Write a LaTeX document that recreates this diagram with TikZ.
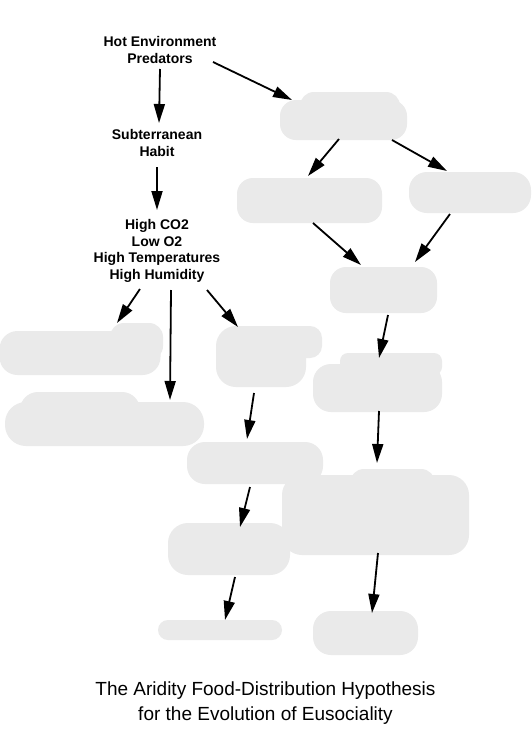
\documentclass[tikz,border=0pt]{standalone}
\usepackage{fontspec}
\setmainfont{Liberation Sans}
\usetikzlibrary{arrows.meta,calc}
\definecolor{blobgray}{RGB}{234,234,234}
\tikzset{
  lbl/.style={font=\bfseries\fontsize{14}{16.5}\selectfont, align=center, inner sep=0pt},
  captiontext/.style={font=\fontsize{19}{25.5}\selectfont, align=center, inner sep=0pt},
  blob/.style={fill=blobgray, draw=none, inner sep=0pt, rounded corners=16pt},
  lump/.style={fill=blobgray, rounded corners=10pt},
  arr/.style={line width=1.8pt, -{Triangle[length=19pt,width=11pt]}, shorten >=0pt}
}
\begin{document}
\begin{tikzpicture}[x=1pt,y=-1pt]
\useasboundingbox[fill=white] (0,0) rectangle (531,734);

% text nodes
\node[lbl] (hot) at (160,50) {Hot Environment\\Predators};
\node[lbl] (sub) at (157,143) {Subterranean\\Habit};
\node[lbl] (high) at (157,251) {High CO2\\Low O2\\High Temperatures\\High Humidity};

% blobs (redacted labels)
\node[blob, minimum width=127pt, minimum height=40pt] (b1) at (343.5,120) {};
\fill[lump, rounded corners=14pt] (300,92) rectangle (400,125);
\node[blob, minimum width=145pt, minimum height=45pt] (b2) at (309.5,200.5) {};
\node[blob, minimum width=122pt, minimum height=41pt, rounded corners=18pt] (b3) at (470,192.5) {};
\node[blob, minimum width=107pt, minimum height=46pt] (b4) at (383.5,290) {};
\node[blob, minimum width=161pt, minimum height=44pt, rounded corners=18pt] (b5) at (80,353) {};
\fill[lump, rounded corners=14pt] (110,323) rectangle (163,360);
\node[blob, minimum width=199pt, minimum height=44pt, rounded corners=21pt] (b6) at (104.5,424) {};
\fill[lump, rounded corners=18pt] (20,392) rectangle (140,425);
\node[blob, minimum width=90pt, minimum height=61pt, rounded corners=20pt] (b7) at (261,356.5) {};
\fill[lump, rounded corners=12pt] (270,326) rectangle (322,358);
\node[blob, minimum width=129pt, minimum height=48pt, rounded corners=18pt] (b8) at (377.5,388) {};
\fill[lump, rounded corners=8pt] (340,353) rectangle (442,375);
\node[blob, minimum width=136pt, minimum height=42pt, rounded corners=18pt] (b9) at (255,463) {};
\node[blob, minimum width=122pt, minimum height=52pt, rounded corners=20pt] (b10) at (229,549) {};
\node[blob, minimum width=187pt, minimum height=80pt, rounded corners=20pt] (b11) at (375.5,515) {};
\fill[lump, rounded corners=14pt] (350,469) rectangle (435,505);
\node[blob, minimum width=124pt, minimum height=20pt, rounded corners=10pt] (b12) at (220,630) {};
\node[blob, minimum width=105pt, minimum height=44pt, rounded corners=18pt] (b13) at (365.5,633) {};

% connectors
\draw[arr] ($(hot.center)+(0,19)$) -- ($(sub.center)+(2,-20)$);
\draw[arr] ($(hot.center)+(53,12)$) -- ($(b1.center)+(-51.5,-20)$);
\draw[arr] ($(sub.center)+(0,24)$) -- ($(high.center)+(0,-41)$);
\draw[arr] ($(high.center)+(-17,38)$) -- ($(b5.center)+(37,-30)$);
\draw[arr] ($(high.center)+(14,39)$) -- ($(b6.center)+(65.5,-24)$);
\draw[arr] ($(high.center)+(50,39)$) -- ($(b7.center)+(-23,-29.5)$);
\draw[arr] ($(b1.center)+(-4.5,19)$) -- ($(b2.center)+(-1.5,-24.5)$);
\draw[arr] ($(b1.center)+(48.5,20)$) -- ($(b3.center)+(-23,-21.5)$);
\draw[arr] ($(b2.center)+(3.5,22.5)$) -- ($(b4.center)+(-22.5,-25)$);
\draw[arr] ($(b3.center)+(-20,21.5)$) -- ($(b4.center)+(31.5,-28)$);
\draw[arr] ($(b4.center)+(4.5,25)$) -- ($(b8.center)+(1.5,-30)$);
\draw[arr] ($(b8.center)+(1.5,23)$) -- ($(b11.center)+(1.5,-52)$);
\draw[arr] ($(b7.center)+(-7,36.5)$) -- ($(b9.center)+(-8,-24)$);
\draw[arr] ($(b9.center)+(-5,24)$) -- ($(b10.center)+(11,-22)$);
\draw[arr] ($(b10.center)+(6,28)$) -- ($(b12.center)+(5,-10)$);
\draw[arr] ($(b11.center)+(2.5,38)$) -- ($(b13.center)+(6.5,-20)$);

% caption
\node[captiontext] (title) at (265.5,703) {The Aridity Food-Distribution Hypothesis\\for the Evolution of Eusociality};
\end{tikzpicture}
\end{document}
